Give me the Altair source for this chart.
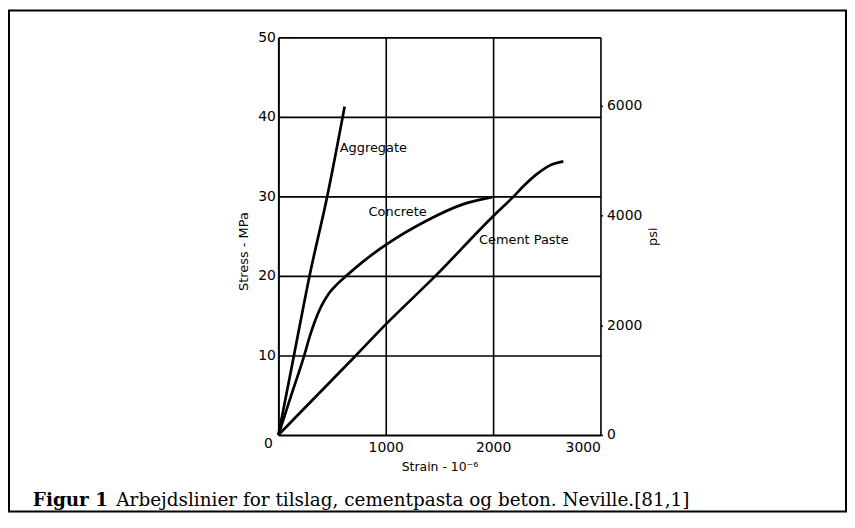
import altair as alt
import pandas as pd

# ---- data ----
agg_strain = [0, 145, 290, 455, 617]
agg_stress = [0, 10, 20, 30, 41.3]

con_strain = [0, 120, 241, 290, 340, 400, 470, 550, 640, 780, 895, 1000, 1389, 1697, 1990]
con_stress = [0, 5, 10, 12.3, 14.3, 16.2, 17.8, 19.0, 20.1, 21.7, 22.9, 23.9, 27.0, 28.9, 29.9]

cem_strain = [0, 722, 1000, 1463, 2000, 2192, 2284, 2407, 2530, 2654]
cem_stress = [0, 10, 13.9, 20, 27.5, 30, 31.3, 32.8, 33.9, 34.4]

label_text = ["Aggregate", "Concrete", "Cement Paste"]
label_strain = [571, 840, 1868]
label_stress = [36.1, 28.0, 24.5]

x_ticks = [1000, 2000, 3000]
y_ticks = [10, 20, 30, 40, 50]
psi_ticks = [0, 2000, 4000, 6000]
MPA_TO_PSI = 145.038

caption_bold = "Figur 1"
caption_rest = "Arbejdslinier for tilslag, cementpasta og beton. Neville.[81,1]"

rows = []
for name, xs_, ys_ in [("Aggregate", agg_strain, agg_stress),
                       ("Concrete", con_strain, con_stress),
                       ("Cement Paste", cem_strain, cem_stress)]:
    for i, (a, b) in enumerate(zip(xs_, ys_)):
        rows.append({"series": name, "strain": a, "stress": b, "i": i})
df = pd.DataFrame(rows)
labels_df = pd.DataFrame({"text": label_text, "strain": label_strain, "stress": label_stress})
origin_df = pd.DataFrame({"strain": [0], "stress": [0], "text": ["0"]})

SANS = "DejaVu Sans"
SERIF = "DejaVu Serif"

xs = alt.Scale(domain=[0, 3000], nice=False)
ys = alt.Scale(domain=[0, 50], nice=False)

x_enc = alt.X("strain:Q", scale=xs, axis=alt.Axis(
    values=x_ticks, format="d", title="Strain - 10⁻⁶", grid=True, gridColor="black",
    gridWidth=1.6, gridOpacity=1, domainColor="black", domainWidth=2, ticks=False,
    labelPadding=6, labelFont=SANS, labelFontSize=14, labelColor="black", titleFont=SANS,
    titleFontSize=12.5, titleFontWeight="normal", titleColor="black", titlePadding=6))
y_enc = alt.Y("stress:Q", scale=ys, axis=alt.Axis(
    values=y_ticks, format="d", title="Stress - MPa", grid=True, gridColor="black",
    gridWidth=1.6, gridOpacity=1, domainColor="black", domainWidth=2, ticks=False,
    labelPadding=3, labelFont=SANS, labelFontSize=14, labelColor="black", titleFont=SANS,
    titleFontSize=13, titleFontWeight="normal", titleColor="black", titlePadding=7,
    titleY=215))

lines = alt.Chart(df).mark_line(color="black", strokeWidth=2.7, interpolate="monotone").encode(
    x=x_enc, y=y_enc, detail="series:N", order="i:Q")

labels = alt.Chart(labels_df).mark_text(
    align="left", baseline="middle", font=SANS, fontSize=13, color="black").encode(
    x=alt.X("strain:Q", scale=xs), y=alt.Y("stress:Q", scale=ys), text="text:N")

origin = alt.Chart(origin_df).mark_text(
    align="center", baseline="middle", font=SANS, fontSize=14, color="black", dx=-10, dy=9).encode(
    x=alt.X("strain:Q", scale=xs), y=alt.Y("stress:Q", scale=ys), text="text:N")

main = alt.layer(lines, labels, origin)

psi_df = pd.DataFrame({"psi": psi_ticks, "strain": [0, 0, 0, 0]})
psi = alt.Chart(psi_df).mark_point(opacity=0).encode(
    x=alt.X("strain:Q", scale=xs),
    y=alt.Y("psi:Q", scale=alt.Scale(domain=[0, 50 * MPA_TO_PSI], nice=False), axis=alt.Axis(
        orient="right", values=psi_ticks, format="d", title="psi", grid=False, domain=False,
        ticks=True, tickSize=2, tickColor="black", tickWidth=1.5, labelPadding=4,
        labelFont=SANS, labelFontSize=14, labelColor="black", titleFont=SANS,
        titleFontSize=13, titleFontWeight="normal", titleColor="black",
        titleAngle=270, titlePadding=18)))

border = alt.Chart(pd.DataFrame({"a": [0]})).mark_rect(
    filled=False, stroke="black", strokeWidth=2).encode(
    x=alt.value(-271), x2=alt.value(571), y=alt.value(-27), y2=alt.value(477))

cap1 = alt.Chart(pd.DataFrame({"t": [caption_bold]})).mark_text(
    align="left", baseline="alphabetic", font=SERIF, fontSize=18.5, fontWeight="bold", color="black").encode(
    x=alt.value(-247), y=alt.value(471), text="t:N")
cap2 = alt.Chart(pd.DataFrame({"t": [caption_rest]})).mark_text(
    align="left", baseline="alphabetic", font=SERIF, fontSize=18.5, color="black").encode(
    x=alt.value(-163), y=alt.value(471), text="t:N")

chart = alt.layer(main, psi, border, cap1, cap2).resolve_scale(
    y="independent").properties(
    width=324, height=400,
    autosize=alt.AutoSizeParams(type="none"),
    padding={"left": 272, "top": 28, "right": 248, "bottom": 79},
).configure_view(stroke="black", strokeWidth=2).configure(background="white")

chart.save("out.html", embed_options={"renderer": "svg", "actions": False})
